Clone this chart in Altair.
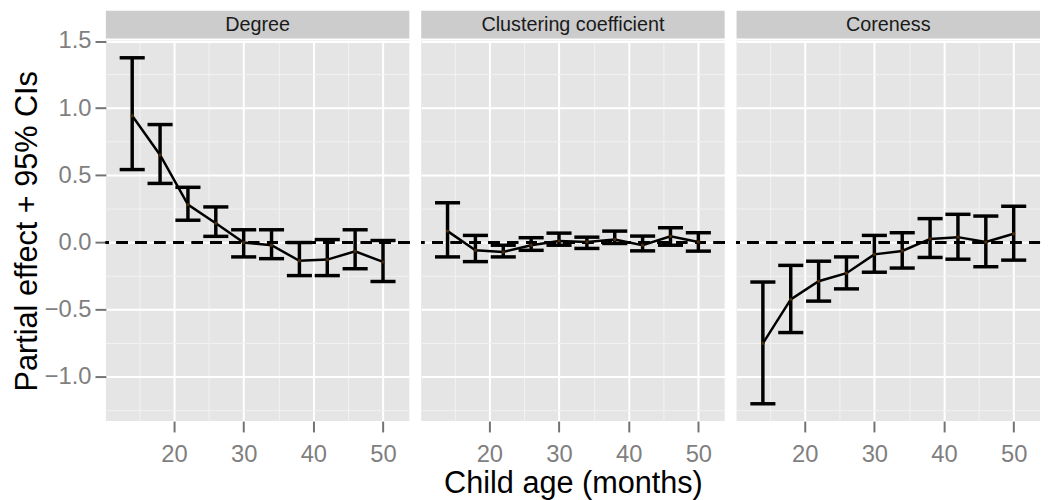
import altair as alt
import pandas as pd

# ---- data ----
ages = [14, 18, 22, 26, 30, 34, 38, 42, 46, 50]
panels = ["Degree", "Clustering coefficient", "Coreness"]

degree_est = [0.944, 0.652, 0.282, 0.144, 0.0, -0.02, -0.136, -0.127, -0.066, -0.144]
degree_lo = [0.543, 0.44, 0.166, 0.046, -0.107, -0.12, -0.246, -0.246, -0.195, -0.29]
degree_hi = [1.375, 0.878, 0.411, 0.265, 0.095, 0.095, 0.0, 0.022, 0.095, 0.015]

clust_est = [0.085, -0.058, -0.07, -0.02, 0.012, 0.004, 0.022, -0.02, 0.046, 0.004]
clust_lo = [-0.107, -0.142, -0.107, -0.058, -0.02, -0.044, -0.007, -0.062, -0.02, -0.064]
clust_hi = [0.296, 0.053, -0.02, 0.036, 0.07, 0.04, 0.085, 0.048, 0.11, 0.073]

core_est = [-0.75, -0.423, -0.288, -0.228, -0.088, -0.063, 0.027, 0.04, 0.004, 0.065]
core_lo = [-1.2, -0.67, -0.436, -0.345, -0.221, -0.19, -0.111, -0.124, -0.18, -0.131]
core_hi = [-0.294, -0.17, -0.139, -0.107, 0.053, 0.073, 0.178, 0.21, 0.197, 0.27]

y_ticks = [-1.25, -1.0, -0.75, -0.5, -0.25, 0.0, 0.25, 0.5, 0.75, 1.0, 1.25, 1.5]
x_ticks = [15, 20, 25, 30, 35, 40, 45, 50]

series = {
    "Degree": (degree_est, degree_lo, degree_hi),
    "Clustering coefficient": (clust_est, clust_lo, clust_hi),
    "Coreness": (core_est, core_lo, core_hi),
}

rows = []
for p in panels:
    est, lo, hi = series[p]
    for a, e, l, h in zip(ages, est, lo, hi):
        rows.append({"panel": p, "age": a, "est": e, "lo": l, "hi": h})
df = pd.DataFrame(rows)

# ---- scales (ggplot-style 5% expansion) ----
HALF = 1.8  # errorbar half width in months
xmin, xmax = min(ages) - HALF, max(ages) + HALF
xpad = 0.05 * (xmax - xmin)
xdom = [xmin - xpad, xmax + xpad]
ymin = min(degree_lo + clust_lo + core_lo)
ymax = max(degree_hi + clust_hi + core_hi)
ypad = 0.05 * (ymax - ymin)
ydom = [ymin - ypad, max(ymax + ypad, 1.501)]

W, H, SH = 307, 385, 28
FONT = "Liberation Sans"
GRAY_TXT = "#7F7F7F"
TICK_COL = "#737373"

y_major = "abs(datum.value*2 - round(datum.value*2)) < 0.001"
x_major = "datum.value % 10 == 0"


def grid_props(test):
    return dict(
        grid=True,
        gridColor={"condition": {"test": test, "value": "#FFFFFF"}, "value": "#F2F2F2"},
        gridWidth={"condition": {"test": test, "value": 2}, "value": 1},
        domain=False,
    )


def y_axis(first):
    if first:
        return alt.Axis(
            values=y_ticks,
            labelExpr=f"{y_major} ? format(datum.value, '.1f') : ''",
            tickOpacity={"condition": {"test": y_major, "value": 1}, "value": 0},
            tickSize=11, tickWidth=2, tickColor=TICK_COL,
            labelColor=GRAY_TXT, labelFontSize=24, labelPadding=4,
            labelOverlap=False, labelFlush=False,
            title="Partial effect + 95% CIs", titleFontSize=31,
            titleFontWeight="normal", titleColor="#000000", titlePadding=1,
            **grid_props(y_major),
        )
    return alt.Axis(values=y_ticks, labels=False, ticks=False, title=None,
                    **grid_props(y_major))


def x_axis(with_title):
    kw = dict(
        values=x_ticks,
        labelExpr=f"{x_major} ? datum.label : ''",
        tickOpacity={"condition": {"test": x_major, "value": 1}, "value": 0},
        tickSize=11, tickWidth=2, tickColor=TICK_COL,
        labelColor=GRAY_TXT, labelFontSize=24, labelPadding=11,
        labelOverlap=False, labelFlush=False,
        **grid_props(x_major),
    )
    if with_title:
        kw.update(title="Child age (months)", titleFontSize=31,
                  titleFontWeight="normal", titleColor="#000000", titlePadding=2)
    else:
        kw.update(title=None)
    return alt.Axis(**kw)


xs = alt.Scale(domain=xdom, nice=False, zero=False)
ys = alt.Scale(domain=ydom, nice=False, zero=False)


def panel_chart(i, name):
    d = df[df["panel"] == name]
    xa = x_axis(i == 1)
    ya = y_axis(i == 0)
    base = alt.Chart(d)
    zero = base.mark_rule(color="black", strokeWidth=2.5, strokeDash=[11, 8]).encode(
        y=alt.YDatum(0, scale=ys, axis=ya)
    )
    bars = base.mark_rule(color="black", strokeWidth=3.5).encode(
        x=alt.X("age:Q", scale=xs, axis=xa),
        y=alt.Y("lo:Q", scale=ys, axis=ya),
        y2="hi:Q",
    )
    caps = base.transform_calculate(
        xl=f"datum.age - {HALF}", xr=f"datum.age + {HALF}"
    )
    cap_hi = caps.mark_rule(color="black", strokeWidth=3.5).encode(
        x=alt.X("xl:Q", scale=xs, axis=xa), x2="xr:Q",
        y=alt.Y("hi:Q", scale=ys, axis=ya),
    )
    cap_lo = caps.mark_rule(color="black", strokeWidth=3.5).encode(
        x=alt.X("xl:Q", scale=xs, axis=xa), x2="xr:Q",
        y=alt.Y("lo:Q", scale=ys, axis=ya),
    )
    line = base.mark_line(color="black", strokeWidth=2.5).encode(
        x=alt.X("age:Q", scale=xs, axis=xa),
        y=alt.Y("est:Q", scale=ys, axis=ya),
    )
    pts = base.mark_point(filled=True, size=12, color="#4a2a0a", opacity=1).encode(
        x=alt.X("age:Q", scale=xs, axis=xa),
        y=alt.Y("est:Q", scale=ys, axis=ya),
    )
    main = alt.layer(zero, bars, cap_hi, cap_lo, line, pts).properties(
        width=W, height=H,
        view=alt.ViewBackground(fill="#E5E5E5", strokeWidth=0),
    )
    strip = alt.Chart(pd.DataFrame({"panel": [name]})).mark_text(
        fontSize=20, color="#1A1A1A", baseline="middle", align="center"
    ).encode(
        text="panel:N", x=alt.value(W / 2), y=alt.value(SH / 2)
    ).properties(
        width=W, height=SH,
        view=alt.ViewBackground(fill="#CCCCCC", strokeWidth=0),
    )
    return alt.vconcat(strip, main, spacing=2, bounds="flush")


chart = alt.hconcat(
    *[panel_chart(i, p) for i, p in enumerate(panels)], spacing=8
).properties(
    padding={"left": 3, "top": 0, "right": 0, "bottom": 0}
).configure(font=FONT).configure_view(strokeWidth=0)

chart.save("out.html", embed_options={"renderer": "svg", "actions": False})
